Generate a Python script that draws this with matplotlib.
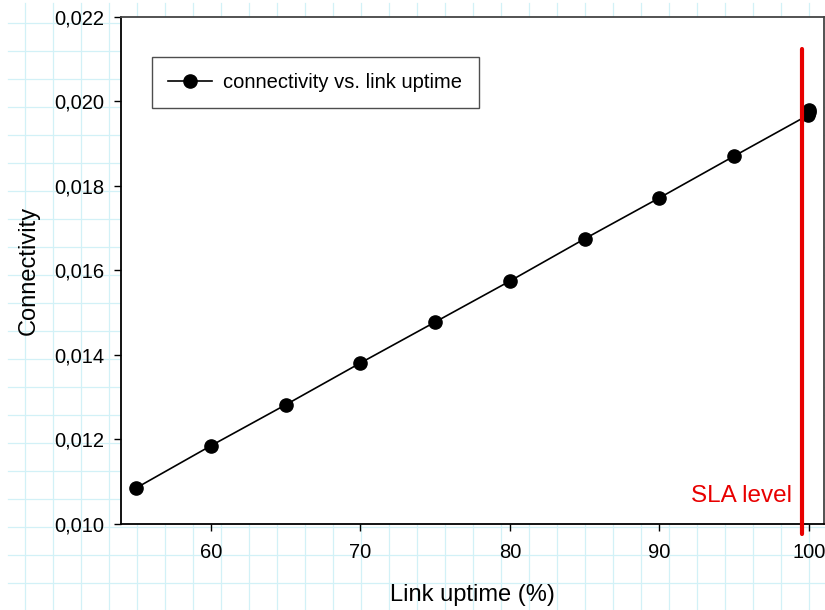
import numpy as np
import matplotlib
matplotlib.use("Agg")
import matplotlib.pyplot as plt
from matplotlib.ticker import FuncFormatter

# ---- data ----
uptime = [55, 60, 65, 70, 75, 80, 85, 90, 95, 99.9, 99.99, 100]
connectivity = [0.01085, 0.01185, 0.01282, 0.01381, 0.01478, 0.01575,
                0.01675, 0.01772, 0.01871, 0.01967, 0.01975, 0.01979]
series_label = "connectivity vs. link uptime"
sla_level = 99.5
sla_text = "SLA level"
x_ticks = [60, 70, 80, 90, 100]
y_ticks = [0.010, 0.012, 0.014, 0.016, 0.018, 0.020, 0.022]

plt.rcParams['font.family'] = ['Liberation Sans', 'DejaVu Sans']

W, H = 825, 610
fig = plt.figure(figsize=(W / 100, H / 100), dpi=100)

# background graph-paper grid (figure decoration)
bg = fig.add_axes([0, 0, 1, 1], zorder=-10)
bg.set_xlim(0, W)
bg.set_ylim(H, 0)
bg.axis('off')
gcol = '#d2f1f7'
for gx in np.arange(25, W, 28.0):
    bg.plot([gx, gx], [3, H], color=gcol, lw=0.9)
for gy in np.arange(23, H, 28.0):
    bg.plot([8, W], [gy, gy], color=gcol, lw=0.9)

L, R, T, B = 121, 824, 17, 524
ax = fig.add_axes([L / W, (H - B) / H, (R - L) / W, (B - T) / H])
ax.set_facecolor('white')

ax.plot(uptime, connectivity, color='black', lw=1.2, marker='o',
        markersize=9.5, label=series_label, zorder=3)

ax.plot([sla_level, sla_level], [0.00976, 0.02124], color='#e80000',
        lw=3.0, solid_capstyle='round', clip_on=False, zorder=5)
ax.text(98.83, 0.01066, sla_text, color='#e80000', fontsize=17.5,
        ha='right', va='center')

ax.set_xlim(54, 101)
ax.set_ylim(0.010, 0.022)
ax.set_xticks(x_ticks)
ax.set_yticks(y_ticks)
ax.yaxis.set_major_formatter(FuncFormatter(lambda v, p: f"{v:.3f}".replace('.', ',')))
ax.xaxis.set_major_formatter(FuncFormatter(lambda v, p: f"{v:.0f}"))

ax.tick_params(axis='both', direction='out', length=5, width=1.0,
               labelsize=14.5, color='black')
ax.tick_params(axis='y', pad=7)
ax.tick_params(axis='x', pad=9)

for s in ['left', 'bottom']:
    ax.spines[s].set_color('black')
    ax.spines[s].set_linewidth(1.3)
for s in ['top', 'right']:
    ax.spines[s].set_color('#444444')
    ax.spines[s].set_linewidth(1.3)

ax.set_xlabel("Link uptime (%)", fontsize=17)
ax.set_ylabel("Connectivity", fontsize=17)
ax.xaxis.set_label_coords(0.5, (B - 584) / (B - T))
ax.yaxis.set_label_coords((40 - L) / (R - L), 0.5)

leg = ax.legend(loc='upper left', bbox_to_anchor=((152 - L) / (R - L), (B - 57) / (B - T)),
                borderaxespad=0, fontsize=14.5, frameon=True, fancybox=False,
                handlelength=2.2, handletextpad=0.55, borderpad=0.8)
leg.get_frame().set_edgecolor('#222222')
leg.get_frame().set_linewidth(1.0)

fig.savefig('out.png', dpi=100)
